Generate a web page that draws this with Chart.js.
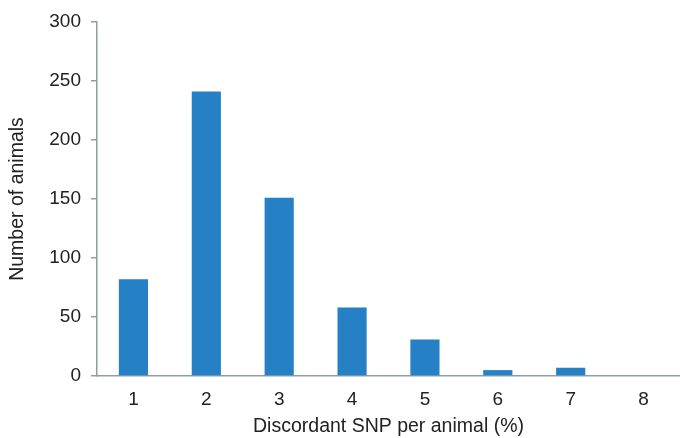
<!DOCTYPE html>
<html>
<head>
<meta charset="utf-8">
<script src="https://cdn.jsdelivr.net/npm/chart.js@4"></script>
<style>
  html, body { margin: 0; padding: 0; background: #fff; }
  #wrap { width: 680px; height: 438px; }
</style>
</head>
<body>
<div id="wrap"><canvas id="myChart" width="680" height="438"></canvas></div>
<script>
// Categorias do eixo X e valores
var categories = ['1', '2', '3', '4', '5', '6', '7', '8'];
var animals = [82, 241, 151, 58, 31, 5, 7, 0];
var yTicks = [0, 50, 100, 150, 200, 250, 300];

var axisColor = '#8c9ea6';
var tickFont = { family: '"Liberation Sans", Arial, sans-serif', size: 19 };
var titleFont = { family: '"Liberation Sans", Arial, sans-serif', size: 19.5 };

var ctx = document.getElementById('myChart').getContext('2d');
var myChart = new Chart(ctx, {
    type: 'bar',
    data: {
        labels: categories,
        datasets: [{
            label: 'Number of animals',
            data: animals,
            backgroundColor: '#2580c6',
            borderWidth: 0,
            categoryPercentage: 1,
            barPercentage: 0.4
        }]
    },
    options: {
        responsive: false,
        animation: false,
        layout: { padding: { top: 22, right: 0, left: 0, bottom: 0 } },
        plugins: { legend: { display: false }, tooltip: { enabled: false } },
        scales: {
            x: {
                grid: { display: false, drawTicks: false },
                border: { color: axisColor, width: 1.5 },
                ticks: { color: '#222', font: tickFont, padding: 12 },
                title: { display: true, text: 'Discordant SNP per animal (%)', color: '#222', font: titleFont, padding: { top: 0, bottom: 0 } },
                afterFit: function(axis) { axis.height = 62; }
            },
            y: {
                min: 0,
                max: 300,
                afterBuildTicks: function(axis) {
                    axis.ticks = yTicks.map(function(v) { return { value: v }; });
                },
                grid: { drawOnChartArea: false, drawTicks: true, tickLength: 6, color: axisColor, lineWidth: 1.5 },
                border: { color: axisColor, width: 1.5 },
                ticks: { color: '#222', font: tickFont, padding: 10 },
                title: { display: true, text: 'Number of animals', color: '#222', font: titleFont, padding: { top: 6, bottom: 0 } },
                afterFit: function(axis) { axis.width = 97; }
            }
        }
    }
});
</script>
</body>
</html>
